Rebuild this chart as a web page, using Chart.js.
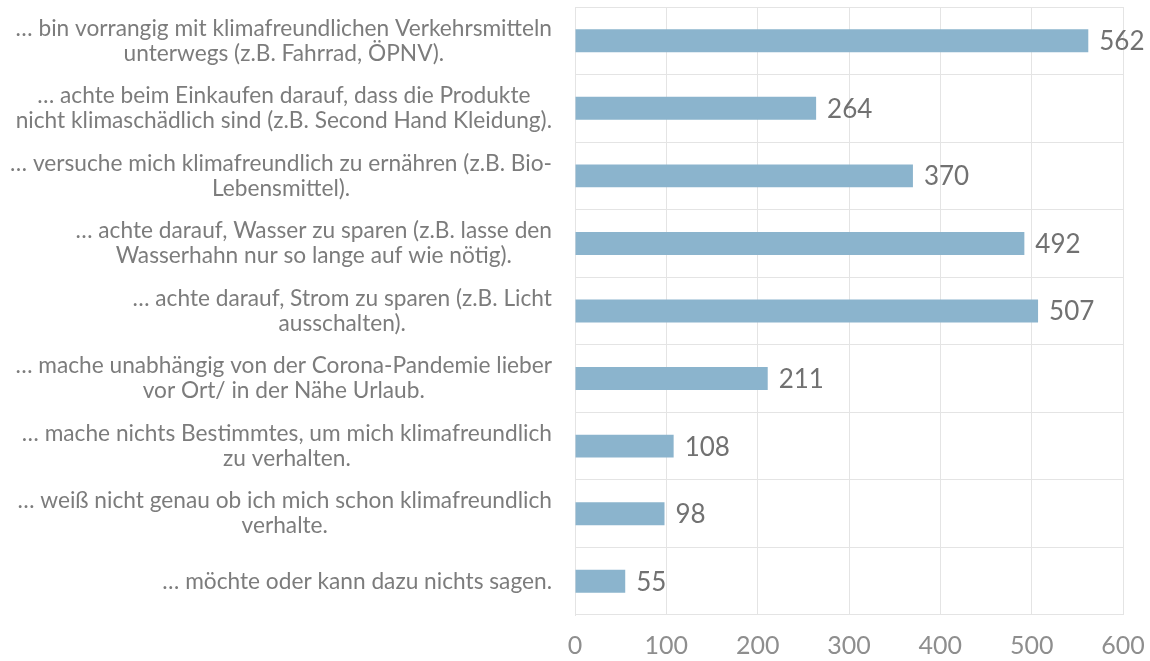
<!DOCTYPE html>
<html>
<head>
<meta charset="utf-8">
<script src="https://cdn.jsdelivr.net/npm/chart.js@4"></script>
<style>
  html, body { margin: 0; padding: 0; background: #fff; }
  #wrap { width: 1150px; height: 661px; }
</style>
</head>
<body>
<div id="wrap"><canvas id="barChart"></canvas></div>
<script>
const categories = [
    ['… bin vorrangig mit klimafreundlichen Verkehrsmitteln', 'unterwegs (z.B. Fahrrad, ÖPNV).'],
    ['… achte beim Einkaufen darauf, dass die Produkte', 'nicht klimaschädlich sind (z.B. Second Hand Kleidung).'],
    ['… versuche mich klimafreundlich zu ernähren (z.B. Bio-', 'Lebensmittel).'],
    ['… achte darauf, Wasser zu sparen (z.B. lasse den', 'Wasserhahn nur so lange auf wie nötig).'],
    ['… achte darauf, Strom zu sparen (z.B. Licht', 'ausschalten).'],
    ['… mache unabhängig von der Corona-Pandemie lieber', 'vor Ort/ in der Nähe Urlaub.'],
    ['… mache nichts Bestimmtes, um mich klimafreundlich', 'zu verhalten.'],
    ['… weiß nicht genau ob ich mich schon klimafreundlich', 'verhalte.'],
    ['… möchte oder kann dazu nichts sagen.']
];
const counts = [562, 264, 370, 492, 507, 211, 108, 98, 55];
const xMin = 0;
const xMax = 600;
const xStep = 100;

const fontFamily = 'Lato, "Open Sans", sans-serif';

// y labels: block right-aligned, lines centred inside the block
const labelPlugin = {
    id: 'blockLabels',
    afterDraw(chart) {
        const ctx = chart.ctx;
        const yScale = chart.scales.y;
        const rightEdge = chart.chartArea.left - 23;
        const lh = 25;
        ctx.save();
        ctx.font = '22.7px ' + fontFamily;
        ctx.fillStyle = '#7c7c7c';
        ctx.textAlign = 'center';
        ctx.textBaseline = 'middle';
        categories.forEach((lines, i) => {
            const y = yScale.getPixelForTick(i);
            const w = Math.max(...lines.map(l => ctx.measureText(l).width));
            const cx = rightEdge - w / 2;
            const y0 = y - (lines.length - 1) * lh / 2;
            lines.forEach((l, j) => ctx.fillText(l, cx, y0 + j * lh));
        });
        ctx.restore();
    }
};

// value labels at bar ends
const valuePlugin = {
    id: 'valueLabels',
    afterDatasetsDraw(chart) {
        const ctx = chart.ctx;
        const meta = chart.getDatasetMeta(0);
        ctx.save();
        ctx.font = '26px ' + fontFamily;
        ctx.fillStyle = '#717171';
        ctx.textAlign = 'left';
        ctx.textBaseline = 'middle';
        meta.data.forEach((bar, i) => {
            ctx.fillText(String(counts[i]), bar.x + 11, bar.y + 1);
        });
        ctx.restore();
    }
};

const data1 = {
    labels: categories,
    datasets: [{
        data: counts,
        backgroundColor: '#8bb4cd',
        borderWidth: 0,
        barPercentage: 0.68,
        categoryPercentage: 0.5
    }]
};

const options1 = {
    indexAxis: 'y',
    responsive: true,
    maintainAspectRatio: false,
    animation: false,
    layout: { padding: { top: 7, right: 27, bottom: 0, left: 0 } },
    plugins: {
        legend: { display: false },
        tooltip: { enabled: false }
    },
    scales: {
        x: {
            min: xMin,
            max: xMax,
            ticks: {
                stepSize: xStep,
                color: '#8e8e8e',
                padding: 16,
                font: { family: fontFamily, size: 25 }
            },
            grid: { color: '#e4e4e4', drawTicks: false },
            border: { display: false },
            afterFit(scale) {
                scale.height = 46;
                scale.paddingLeft = 0;
                scale.paddingRight = 0;
            }
        },
        y: {
            ticks: { display: false },
            grid: { color: '#e4e4e4', drawTicks: false, offset: true },
            border: { color: '#e4e4e4' },
            afterFit(scale) {
                scale.width = 575;
                scale.paddingTop = 0;
                scale.paddingBottom = 0;
            }
        }
    }
};

new Chart(document.getElementById('barChart'), {
    type: 'bar',
    data: data1,
    options: options1,
    plugins: [labelPlugin, valuePlugin]
});
</script>
</body>
</html>
